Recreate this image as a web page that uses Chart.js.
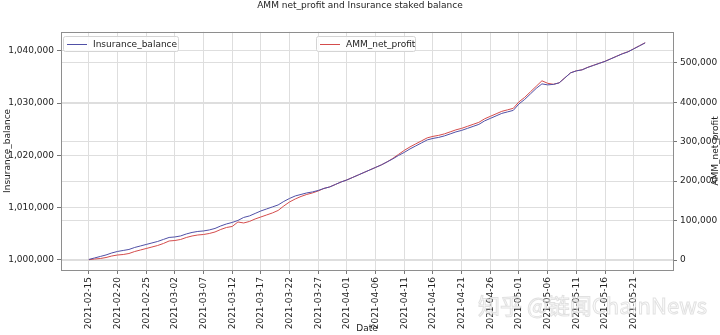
<!DOCTYPE html>
<html>
<head>
<meta charset="utf-8">
<script src="https://cdn.jsdelivr.net/npm/chart.js@4.4.1/dist/chart.umd.min.js"></script>
<style>
  html, body { margin: 0; padding: 0; background: #fff; }
  #wrap { width: 720px; height: 335px; }
</style>
</head>
<body>
<div id="wrap"><canvas id="chart" width="720" height="335"></canvas></div>
<script>
const startDate = '2021-02-15';

const tickLabels = ['2021-02-15', '2021-02-20', '2021-02-25', '2021-03-02', '2021-03-07',
  '2021-03-12', '2021-03-17', '2021-03-22', '2021-03-27', '2021-04-01', '2021-04-06',
  '2021-04-11', '2021-04-16', '2021-04-21', '2021-04-26', '2021-05-01', '2021-05-06',
  '2021-05-11', '2021-05-16', '2021-05-21'];
const tickDays = [0, 5, 10, 15, 20, 25, 30, 35, 40, 45, 50, 55, 60, 65, 70, 75, 80, 85, 90, 95];

const leftTicks = [1000000, 1010000, 1020000, 1030000, 1040000];
const rightTicks = [0, 100000, 200000, 300000, 400000, 500000];

// one value per day, starting at 2021-02-15
const insuranceBalance = [
  1000096, 1000383, 1000670, 1000957, 1001340, 1001627, 1001818, 1002010, 1002393, 1002680,
  1002967, 1003254, 1003541, 1003924, 1004307, 1004402, 1004594, 1004976, 1005264, 1005455,
  1005551, 1005742, 1006029, 1006508, 1006890, 1007178, 1007560, 1008135, 1008422, 1008900,
  1009379, 1009761, 1010144, 1010527, 1011197, 1011771, 1012250, 1012537, 1012824, 1013015,
  1013302, 1013685, 1013972, 1014451, 1014929, 1015312, 1015791, 1016269, 1016748, 1017226,
  1017705, 1018183, 1018757, 1019331, 1020001, 1020576, 1021245, 1021820, 1022394, 1022968,
  1023255, 1023447, 1023734, 1024116, 1024499, 1024786, 1025169, 1025552, 1025935, 1026605,
  1027083, 1027562, 1028040, 1028327, 1028614, 1029858, 1030720, 1031772, 1032825, 1033686,
  1033495, 1033591, 1033878, 1034835, 1035792, 1036175, 1036366, 1036845, 1037227, 1037610,
  1037993, 1038471, 1038950, 1039428, 1039811, 1040385, 1040960, 1041534
];

const ammNetProfit = [
  761, 2538, 3807, 6345, 10152, 12690, 13959, 16497, 21573, 25380,
  29187, 32994, 36801, 41877, 48222, 49491, 52029, 57105, 60912, 63450,
  64719, 67257, 71064, 77409, 82485, 85023, 96444, 93906, 97713, 104058,
  109134, 114210, 119286, 125631, 137052, 147204, 154818, 161163, 166239, 170046,
  175122, 181467, 185274, 191619, 197964, 203040, 209385, 215730, 222075, 228420,
  234765, 241110, 248724, 257607, 267759, 277911, 286794, 294408, 302022, 309636,
  313443, 315981, 319788, 324864, 329940, 333747, 338823, 343899, 348975, 357858,
  364203, 370548, 376893, 380700, 384507, 401004, 412425, 426384, 440343, 454302,
  447957, 445419, 449226, 461916, 474606, 479682, 482220, 488565, 493641, 498717,
  503793, 510138, 516483, 522828, 527904, 535518, 543132, 550746
];

const lastDay = insuranceBalance.length - 1;
const FONT = "'DejaVu Sans', sans-serif";
const BLUE = '#5050a6';
const RED = '#d44c4c';
const GRID = '#dedede';

const fmt = v => Math.round(v).toLocaleString('en-US');
const setTicks = list => s => { s.ticks = list.map(v => ({ value: v })); };

// matplotlib-style frame, separate legends, right axis label, watermark
const extras = {
  id: 'extras',
  afterDatasetsDraw(chart) {
    const { ctx, chartArea: a } = chart;
    ctx.save();
    ctx.strokeStyle = '#8e8e8e';
    ctx.lineWidth = 1;
    ctx.strokeRect(Math.round(a.left) + 0.5, Math.round(a.top) + 0.5,
      Math.round(a.right - a.left), Math.round(a.bottom - a.top));

    function legend(x, y, w, label, color) {
      ctx.fillStyle = 'rgba(255,255,255,0.85)';
      ctx.strokeStyle = '#d4d4d4';
      ctx.beginPath();
      ctx.roundRect(x + 0.5, y + 0.5, w, 15, 2);
      ctx.fill();
      ctx.stroke();
      ctx.strokeStyle = color;
      ctx.beginPath();
      ctx.moveTo(x + 4, y + 8.5);
      ctx.lineTo(x + 24, y + 8.5);
      ctx.stroke();
      ctx.fillStyle = '#222';
      ctx.font = '9px ' + FONT;
      ctx.textBaseline = 'middle';
      ctx.fillText(label, x + 30, y + 8.5);
    }
    legend(63, 36, 115, 'Insurance_balance', BLUE);
    legend(316, 36, 99, 'AMM_net_profit', RED);

    ctx.fillStyle = '#222';
    ctx.font = '9px ' + FONT;
    ctx.textAlign = 'center';
    ctx.textBaseline = 'middle';
    ctx.translate(716, (a.top + a.bottom) / 2);
    ctx.rotate(-Math.PI / 2);
    ctx.fillText('AMM_net_profit', 0, 0);
    ctx.restore();

    ctx.save();
    ctx.font = "22px 'Noto Sans CJK SC', 'DejaVu Sans', sans-serif";
    ctx.textBaseline = 'alphabetic';
    ctx.lineWidth = 1;
    ctx.strokeStyle = 'rgba(170,170,170,0.35)';
    ctx.fillStyle = 'rgba(255,255,255,0.6)';
    ctx.fillText('知乎 @链闻ChainNews', 478, 314);
    ctx.strokeText('知乎 @链闻ChainNews', 478, 314);
    ctx.restore();
  }
};

const ctx = document.getElementById('chart').getContext('2d');

new Chart(ctx, {
  type: 'line',
  data: {
    datasets: [
      {
        label: 'Insurance_balance',
        data: insuranceBalance.map((v, i) => ({ x: i, y: v })),
        borderColor: BLUE,
        borderWidth: 1,
        pointRadius: 0,
        tension: 0,
        yAxisID: 'y'
      },
      {
        label: 'AMM_net_profit',
        data: ammNetProfit.map((v, i) => ({ x: i, y: v })),
        borderColor: RED,
        borderWidth: 1,
        pointRadius: 0,
        tension: 0,
        yAxisID: 'y2'
      }
    ]
  },
  options: {
    responsive: false,
    animation: false,
    layout: { padding: 0 },
    plugins: {
      legend: { display: false },
      tooltip: { enabled: false },
      title: {
        display: true,
        text: 'AMM net_profit and Insurance staked balance',
        color: '#222',
        font: { family: FONT, size: 9, weight: 'normal' },
        padding: { top: 0, bottom: 21 }
      }
    },
    scales: {
      x: {
        type: 'linear',
        min: -4.85,
        max: lastDay + 4.85,
        afterBuildTicks: setTicks(tickDays),
        afterFit: s => { s.height = 65; },
        ticks: {
          autoSkip: false,
          minRotation: 90,
          maxRotation: 90,
          padding: 3,
          color: '#222',
          font: { family: FONT, size: 9 },
          callback: v => tickLabels[tickDays.indexOf(v)] || ''
        },
        grid: { color: GRID, tickColor: '#777', tickLength: 4 },
        border: { display: false },
        title: {
          display: true,
          text: 'Date',
          color: '#222',
          font: { family: FONT, size: 9 },
          padding: { top: 0, bottom: 1 }
        }
      },
      y: {
        position: 'left',
        min: 998080,
        max: 1043650,
        afterBuildTicks: setTicks(leftTicks),
        afterFit: s => { s.width = 61; },
        ticks: {
          padding: 3,
          color: '#222',
          font: { family: FONT, size: 9 },
          callback: v => fmt(v)
        },
        grid: { color: GRID, tickColor: '#777', tickLength: 4 },
        border: { display: false },
        title: {
          display: true,
          text: 'Insurance_balance',
          color: '#222',
          font: { family: FONT, size: 9 },
          padding: { top: 2, bottom: 0 }
        }
      },
      y2: {
        position: 'right',
        min: -25300,
        max: 578500,
        afterBuildTicks: setTicks(rightTicks),
        afterFit: s => { s.width = 47; },
        ticks: {
          padding: 3,
          color: '#222',
          font: { family: FONT, size: 9 },
          callback: v => fmt(v)
        },
        grid: { color: GRID, tickColor: '#777', tickLength: 4, drawOnChartArea: true },
        border: { display: false }
      }
    }
  },
  plugins: [extras]
});
</script>
</body>
</html>
